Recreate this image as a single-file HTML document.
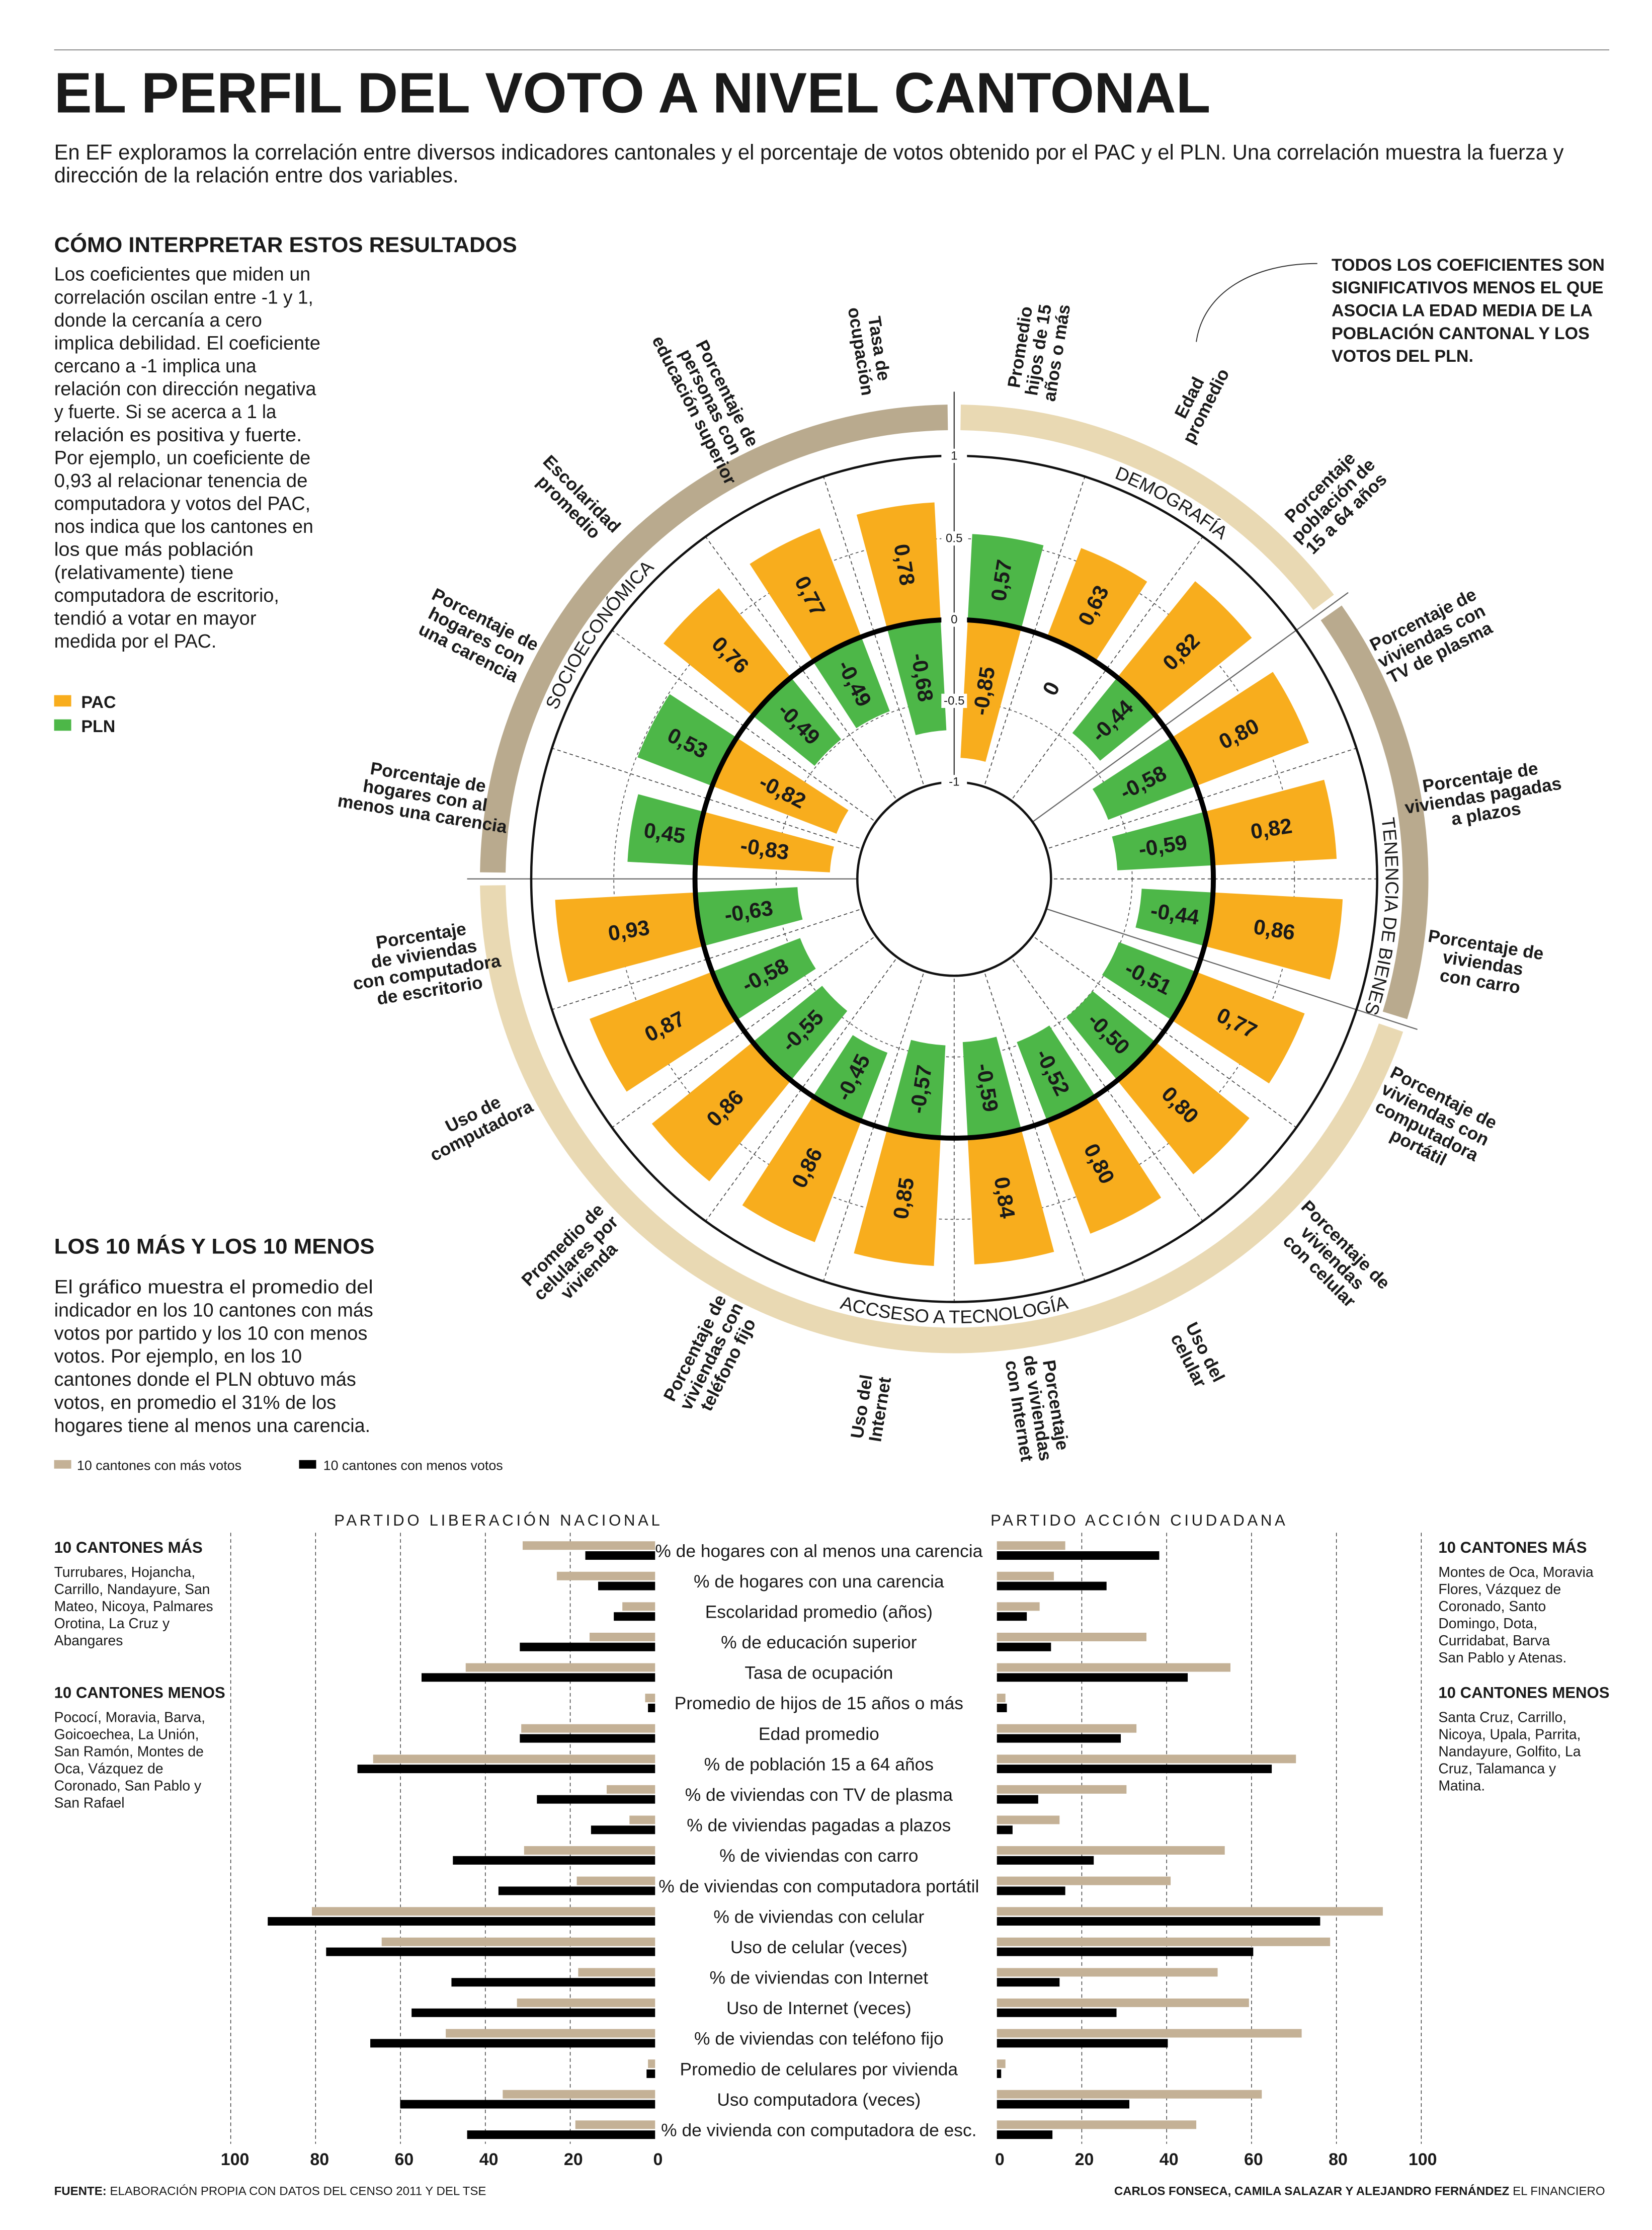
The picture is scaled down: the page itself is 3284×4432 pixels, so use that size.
<!DOCTYPE html>
<html><head><meta charset="utf-8">
<style>
html,body{margin:0;padding:0;background:#fff;}
svg{display:block;}
text{font-family:"Liberation Sans Narrow","Liberation Sans",sans-serif;fill:#1a1a1a;}
.b{font-weight:bold;}
</style></head>
<body>
<svg id="s" xmlns="http://www.w3.org/2000/svg" width="3284" height="4432" viewBox="0 0 1160 1565.5" preserveAspectRatio="none">
<rect width="1160" height="1566" fill="#fff"/>
<line x1="38" y1="35" x2="1130" y2="35" stroke="#999" stroke-width="0.8"/>
<text x="38" y="79" class="b" font-size="40" textLength="812" lengthAdjust="spacingAndGlyphs" style="font-family:'Liberation Sans',sans-serif;font-weight:900">EL PERFIL DEL VOTO A NIVEL CANTONAL</text>
<text x="38" y="112" font-size="15" textLength="1060" lengthAdjust="spacingAndGlyphs">En EF exploramos la correlación entre diversos indicadores cantonales y el porcentaje de votos obtenido por el PAC y el PLN. Una correlación muestra la fuerza y</text>
<text x="38" y="128" font-size="15" textLength="284" lengthAdjust="spacingAndGlyphs">dirección de la relación entre dos variables.</text>
<text x="38" y="177" font-size="15" class="b" textLength="325" lengthAdjust="spacingAndGlyphs">CÓMO INTERPRETAR ESTOS RESULTADOS</text>
<g id="p1"></g>
<rect x="38" y="488" width="12" height="8" fill="#f8ad1d"/><text x="57" y="497" font-size="12" class="b">PAC</text>
<rect x="38" y="505" width="12" height="8" fill="#4db748"/><text x="57" y="514" font-size="12" class="b">PLN</text>
<text x="38" y="880" font-size="15" class="b" textLength="225" lengthAdjust="spacingAndGlyphs">LOS 10 MÁS Y LOS 10 MENOS</text>
<g id="p2"></g>
<rect x="38" y="1025" width="12" height="6" fill="#c4b196"/><text x="54" y="1032" font-size="9.5">10 cantones con más votos</text>
<rect x="210" y="1025" width="12" height="6" fill="#000"/><text x="227" y="1032" font-size="9.5">10 cantones con menos votos</text>
<g id="polar"></g>
<path d="M925,185 C880,185 845,205 840,240" fill="none" stroke="#333" stroke-width="0.7"/>
<g font-size="12" class="b">
<text x="935" y="190">TODOS LOS COEFICIENTES SON</text>
<text x="935" y="206">SIGNIFICATIVOS MENOS EL QUE</text>
<text x="935" y="222">ASOCIA LA EDAD MEDIA DE LA</text>
<text x="935" y="238">POBLACIÓN CANTONAL Y LOS</text>
<text x="935" y="254">VOTOS DEL PLN.</text>
</g>
<g id="bars"></g>
</svg>
<script>
var NS="http://www.w3.org/2000/svg";
function el(p,t,a,txt){var e=document.createElementNS(NS,t);for(var k in a)e.setAttribute(k,a[k]);if(txt!==undefined)e.textContent=txt;p.appendChild(e);return e;}
var p1=[["Los coeficientes que miden un",180],["correlación oscilan entre -1 y 1,",182],["donde la cercanía a cero",146],["implica debilidad. El coeficiente",187],["cercano a -1 implica una",142],["relación con dirección negativa",184],["y fuerte. Si se acerca a 1 la",156],["relación es positiva y fuerte.",174],["Por ejemplo, un coeficiente de",180],["0,93 al relacionar tenencia de",178],["computadora y votos del PAC,",180],["nos indica que los cantones en",182],["los que más población",140],["(relativamente) tiene",126],["computadora de escritorio,",158],["tendió a votar en mayor",142],["medida por el PAC.",114]];
var g1=document.getElementById('p1');
p1.forEach(function(l,i){el(g1,'text',{x:38,y:197+i*16.1,'font-size':13.5,textLength:l[1],lengthAdjust:'spacingAndGlyphs'},l[0]);});
var p2=[["El gráfico muestra el promedio del",224],["indicador en los 10 cantones con más",224],["votos por partido y los 10 con menos",220],["votos.  Por ejemplo, en los 10",174],["cantones donde el PLN obtuvo más",212],["votos, en promedio el 31% de los",198],["hogares tiene al menos una carencia.",222]];
var g2=document.getElementById('p2');
p2.forEach(function(l,i){el(g2,'text',{x:38,y:908+i*16.2,'font-size':13.5,textLength:l[1],lengthAdjust:'spacingAndGlyphs'},l[0]);});

var g=document.getElementById('polar');
var cx=670,cy=617;
function R(v){return v>0?182+106*v:182+114*v;}
function P(a,r){var t=a*Math.PI/180;return [cx+r*Math.sin(t),cy-r*Math.cos(t)];}
function sector(a1,a2,r1,r2){var A=P(a1,r1),B=P(a1,r2),C=P(a2,r2),D=P(a2,r1);var lg=(a2-a1)>180?1:0;
return "M"+A+"L"+B+"A"+r2+","+r2+" 0 "+lg+" 1 "+C+"L"+D+"A"+r1+","+r1+" 0 "+lg+" 0 "+A+"Z";}
[[0.8,53.2,'#e9d9b3'],[54.8,107.2,'#b9aa8e'],[108.8,269.2,'#e9d9b3'],[270.8,359.2,'#b9aa8e']].forEach(function(b){el(g,'path',{d:sector(b[0],b[1],315,333),fill:b[2]});});
el(g,'circle',{cx:cx,cy:cy,r:182+114*0.5,fill:'none',stroke:'#555','stroke-width':0.6,'stroke-dasharray':'2,2'});
el(g,'circle',{cx:cx,cy:cy,r:R(-0.5),fill:'none',stroke:'#555','stroke-width':0.6,'stroke-dasharray':'2,2'});
for(var i=0;i<20;i++){var a=18*i;if([0,54,108,270].indexOf(a)>=0)continue;var A=P(a,70),B=P(a,297);el(g,'line',{x1:A[0],y1:A[1],x2:B[0],y2:B[1],stroke:'#444','stroke-width':0.6,'stroke-dasharray':'2.5,2'});}
[54,108,270].forEach(function(a){var A=P(a,68),B=P(a,342);el(g,'line',{x1:A[0],y1:A[1],x2:B[0],y2:B[1],stroke:'#666','stroke-width':0.8});});
el(g,'line',{x1:cx,y1:cy-68,x2:cx,y2:cy-342,stroke:'#333','stroke-width':0.8});
var D=[[-0.85,0.57],[0.63,0],[0.82,-0.44],[0.80,-0.58],[0.82,-0.59],[0.86,-0.44],[0.77,-0.51],[0.80,-0.50],[0.80,-0.52],[0.84,-0.59],[0.85,-0.57],[0.86,-0.45],[0.86,-0.55],[0.87,-0.58],[0.93,-0.63],[-0.83,0.45],[-0.82,0.53],[0.76,-0.49],[0.77,-0.49],[0.78,-0.68]];
var cols=['#f8ad1d','#4db748'];
function fmt(v){return v===0?"0":v.toFixed(2).replace('.',',');}
function rot(a){var r=a-90;if(a>180)r+=180;return r;}
var labs=[];
D.forEach(function(d,i){var a=9+18*i;
 d.forEach(function(v,k){
  if(v!==0){var r1=Math.min(R(0),R(v)),r2=Math.max(R(0),R(v));el(g,'path',{d:sector(a-6,a+6,r1,r2),fill:cols[k]});labs.push([a,(r1+r2)/2,fmt(v)]);}
  else labs.push([a,150,"0"]);
 });
});
el(g,'circle',{cx:cx,cy:cy,r:297,fill:'none',stroke:'#111','stroke-width':1.6});
el(g,'circle',{cx:cx,cy:cy,r:182,fill:'none',stroke:'#000','stroke-width':3.5});
el(g,'circle',{cx:cx,cy:cy,r:68,fill:'#fff',stroke:'#111','stroke-width':1.6});
labs.forEach(function(l){var p=P(l[0],l[1]);el(g,'text',{x:p[0],y:p[1],'font-size':15,'font-weight':'bold','text-anchor':'middle','dominant-baseline':'central',transform:'rotate('+rot(l[0])+' '+p[0]+' '+p[1]+')',style:"font-family:'Liberation Sans',sans-serif"},l[2]);});
[["1",297],["0.5",239],["0",182],["-0.5",125],["-1",68]].forEach(function(t){var y=cy-t[1];el(g,'rect',{x:cx-9,y:y-5,width:18,height:10,fill:'#fff'});el(g,'text',{x:cx,y:y,'font-size':8.5,'text-anchor':'middle','dominant-baseline':'central'},t[0]);});
var OL=[["Promedio","hijos de 15","años o más"],["Edad","promedio"],["Porcentaje","población de","15 a 64 años"],["Porcentaje de","viviendas con","TV de plasma"],["Porcentaje de","viviendas pagadas","a plazos"],["Porcentaje de","viviendas","con carro"],["Porcentaje de","viviendas con","computadora","portátil"],["Porcentaje de","viviendas","con celular"],["Uso del","celular"],["Porcentaje","de viviendas","con Internet"],["Uso del","Internet"],["Porcentaje de","viviendas con","teléfono fijo"],["Promedio de","celulares por","vivienda"],["Uso de","computadora"],["Porcentaje","de viviendas","con computadora","de escritorio"],["Porcentaje de","hogares con al","menos una carencia"],["Porcentaje de","hogares con","una carencia"],["Escolaridad","promedio"],["Porcentaje de","personas con","educación superior"],["Tasa de","ocupación"]];
OL.forEach(function(ls,i){var a=9+18*i;var p=P(a,376);var n=ls.length;
 var t=el(g,'text',{'font-size':12.5,'font-weight':'bold','text-anchor':'middle',transform:'translate('+p[0]+','+p[1]+') rotate('+rot(a)+')',style:"font-family:'Liberation Sans',sans-serif"});
 ls.forEach(function(s,j){el(t,'tspan',{x:0,y:(j-(n-1)/2)*13+4.5},s);});
});
var defs=el(g,'defs',{});
function arcPath(id,a1,a2,r,cw){var A=P(a1,r),B=P(a2,r);el(defs,'path',{id:id,d:"M"+A+"A"+r+","+r+" 0 0 "+(cw?1:0)+" "+B,fill:'none'});}
arcPath('c1',0,60,303,1);arcPath('c2',55,135,303,1);arcPath('c4',250,359,303,1);arcPath('c3',250,110,312,0);
[['c1','DEMOGRAFÍA'],['c2','TENENCIA DE BIENES'],['c3','ACCSESO A TECNOLOGÍA'],['c4','SOCIOECONÓMICA']].forEach(function(c){
 var t=el(g,'text',{'font-size':13,'text-anchor':'middle'});el(t,'textPath',{href:'#'+c[0],startOffset:'50%'},c[1]);});

var b=document.getElementById('bars');
el(b,'text',{x:350,y:1071,'font-size':11,'text-anchor':'middle','letter-spacing':2},'PARTIDO LIBERACIÓN NACIONAL');
el(b,'text',{x:800,y:1071,'font-size':11,'text-anchor':'middle','letter-spacing':2},'PARTIDO ACCIÓN CIUDADANA');
for(var k=1;k<=5;k++){var xl=460-59.6*k,xr=700+59.6*k;
 el(b,'line',{x1:xl,y1:1076,x2:xl,y2:1505,stroke:'#333','stroke-width':0.5,'stroke-dasharray':'2.5,2'});
 el(b,'line',{x1:xr,y1:1076,x2:xr,y2:1505,stroke:'#333','stroke-width':0.5,'stroke-dasharray':'2.5,2'});}
[0,20,40,60,80,100].forEach(function(t){el(b,'text',{x:462-2.97*t,y:1520,'font-size':12,'font-weight':'bold','text-anchor':'middle'},t);el(b,'text',{x:702+2.97*t,y:1520,'font-size':12,'font-weight':'bold','text-anchor':'middle'},t);});
var rows=[["% de hogares con al menos una carencia",367,411,748,814],["% de hogares con una carencia",391,420,740,777],["Escolaridad promedio (años)",437,431,730,721],["% de educación superior",414,365,805,738],["Tasa de ocupación",327,296,864,834],["Promedio de hijos de 15 años o más",453,455,706,707],["Edad promedio",366,365,798,787],["% de población 15 a 64 años",262,251,910,893],["% de viviendas con TV de plasma",426,377,791,729],["% de viviendas pagadas a plazos",442,415,744,711],["% de viviendas con carro",368,318,860,768],["% de viviendas con computadora portátil",405,350,822,748],["% de viviendas con celular",219,188,971,927],["Uso de celular (veces)",268,229,934,880],["% de viviendas con Internet",406,317,855,744],["Uso de Internet  (veces)",363,289,877,784],["% de viviendas con teléfono fijo",313,260,914,820],["Promedio de celulares por vivienda",455,454,706,703],["Uso computadora (veces)",353,281,886,793],["% de vivienda con computadora de esc.",404,328,840,739]];
rows.forEach(function(r,i){var y=1089+21.4*i;
 el(b,'rect',{x:r[1],y:y-7,width:460-r[1],height:6,fill:'#c4b196'});
 el(b,'rect',{x:r[2],y:y,width:460-r[2],height:6,fill:'#000'});
 el(b,'rect',{x:700,y:y-7,width:r[3]-700,height:6,fill:'#c4b196'});
 el(b,'rect',{x:700,y:y,width:r[4]-700,height:6,fill:'#000'});
 el(b,'text',{x:575,y:y+4,'font-size':12.5,'text-anchor':'middle'},r[0]);
});
function block(x,y,title,lines){el(b,'text',{x:x,y:y,'font-size':11,'font-weight':'bold'},title);lines.forEach(function(l,i){el(b,'text',{x:x,y:y+17+i*12,'font-size':10},l);});}
block(38,1090,'10 CANTONES MÁS',["Turrubares, Hojancha,","Carrillo, Nandayure, San","Mateo, Nicoya, Palmares","Orotina, La Cruz y","Abangares"]);
block(38,1192,'10 CANTONES MENOS',["Pococí, Moravia, Barva,","Goicoechea, La Unión,","San Ramón, Montes de","Oca, Vázquez de","Coronado, San Pablo y","San Rafael"]);
block(1010,1090,'10 CANTONES MÁS',["Montes de Oca, Moravia","Flores, Vázquez de","Coronado, Santo","Domingo, Dota,","Curridabat, Barva","San Pablo y Atenas."]);
block(1010,1192,'10 CANTONES MENOS',["Santa Cruz, Carrillo,","Nicoya, Upala, Parrita,","Nandayure, Golfito, La","Cruz, Talamanca y","Matina."]);
var f=el(b,'text',{x:38,y:1541,'font-size':8.5});el(f,'tspan',{'font-weight':'bold'},'FUENTE: ');el(f,'tspan',{},'ELABORACIÓN PROPIA CON DATOS DEL CENSO 2011 Y DEL TSE');
var f2=el(b,'text',{x:1127,y:1541,'font-size':8.5,'text-anchor':'end'});el(f2,'tspan',{'font-weight':'bold'},'CARLOS FONSECA, CAMILA SALAZAR Y ALEJANDRO FERNÁNDEZ');el(f2,'tspan',{},' EL FINANCIERO');
</script>
</body></html>
